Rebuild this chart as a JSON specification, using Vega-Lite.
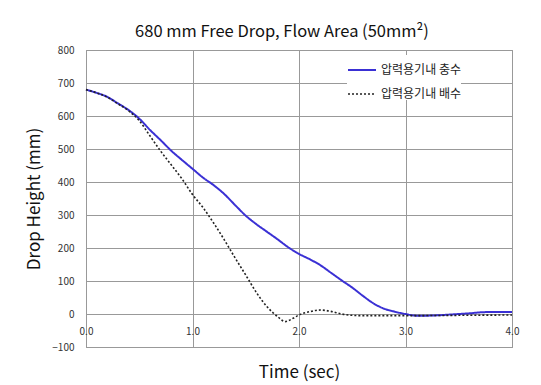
{
  "$schema": "https://vega.github.io/schema/vega-lite/v6.json",
  "width": 426,
  "height": 297,
  "autosize": {"type": "none"},
  "padding": {"left": 86, "top": 50, "right": 29, "bottom": 38},
  "background": "white",
  "title": {
    "text": "680 mm Free Drop, Flow Area (50mm²)",
    "font": "Noto Sans CJK KR",
    "fontSize": 16.5,
    "fontWeight": "normal",
    "color": "#111111",
    "anchor": "middle",
    "dx": -17,
    "offset": 5
  },
  "data": {
    "values": [
      {"t": 0.0, "v": 680, "s": "압력용기내 충수"},
      {"t": 0.1, "v": 670, "s": "압력용기내 충수"},
      {"t": 0.2, "v": 658, "s": "압력용기내 충수"},
      {"t": 0.3, "v": 638, "s": "압력용기내 충수"},
      {"t": 0.4, "v": 618, "s": "압력용기내 충수"},
      {"t": 0.5, "v": 592, "s": "압력용기내 충수"},
      {"t": 0.6, "v": 558, "s": "압력용기내 충수"},
      {"t": 0.7, "v": 527, "s": "압력용기내 충수"},
      {"t": 0.8, "v": 495, "s": "압력용기내 충수"},
      {"t": 0.9, "v": 467, "s": "압력용기내 충수"},
      {"t": 1.0, "v": 440, "s": "압력용기내 충수"},
      {"t": 1.1, "v": 413, "s": "압력용기내 충수"},
      {"t": 1.2, "v": 390, "s": "압력용기내 충수"},
      {"t": 1.3, "v": 363, "s": "압력용기내 충수"},
      {"t": 1.4, "v": 330, "s": "압력용기내 충수"},
      {"t": 1.5, "v": 298, "s": "압력용기내 충수"},
      {"t": 1.6, "v": 272, "s": "압력용기내 충수"},
      {"t": 1.7, "v": 249, "s": "압력용기내 충수"},
      {"t": 1.8, "v": 226, "s": "압력용기내 충수"},
      {"t": 1.9, "v": 202, "s": "압력용기내 충수"},
      {"t": 2.0, "v": 182, "s": "압력용기내 충수"},
      {"t": 2.1, "v": 166, "s": "압력용기내 충수"},
      {"t": 2.2, "v": 148, "s": "압력용기내 충수"},
      {"t": 2.3, "v": 125, "s": "압력용기내 충수"},
      {"t": 2.4, "v": 102, "s": "압력용기내 충수"},
      {"t": 2.5, "v": 80, "s": "압력용기내 충수"},
      {"t": 2.6, "v": 55, "s": "압력용기내 충수"},
      {"t": 2.7, "v": 32, "s": "압력용기내 충수"},
      {"t": 2.8, "v": 16, "s": "압력용기내 충수"},
      {"t": 2.9, "v": 7, "s": "압력용기내 충수"},
      {"t": 3.0, "v": 0, "s": "압력용기내 충수"},
      {"t": 3.1, "v": -5, "s": "압력용기내 충수"},
      {"t": 3.2, "v": -5, "s": "압력용기내 충수"},
      {"t": 3.3, "v": -4, "s": "압력용기내 충수"},
      {"t": 3.4, "v": -2, "s": "압력용기내 충수"},
      {"t": 3.5, "v": 0, "s": "압력용기내 충수"},
      {"t": 3.6, "v": 2, "s": "압력용기내 충수"},
      {"t": 3.7, "v": 5, "s": "압력용기내 충수"},
      {"t": 3.8, "v": 6, "s": "압력용기내 충수"},
      {"t": 3.9, "v": 6, "s": "압력용기내 충수"},
      {"t": 4.0, "v": 6, "s": "압력용기내 충수"},
      {"t": 0.0, "v": 680, "s": "압력용기내 배수"},
      {"t": 0.1, "v": 670, "s": "압력용기내 배수"},
      {"t": 0.2, "v": 657, "s": "압력용기내 배수"},
      {"t": 0.3, "v": 637, "s": "압력용기내 배수"},
      {"t": 0.4, "v": 616, "s": "압력용기내 배수"},
      {"t": 0.5, "v": 586, "s": "압력용기내 배수"},
      {"t": 0.6, "v": 540, "s": "압력용기내 배수"},
      {"t": 0.7, "v": 494, "s": "압력용기내 배수"},
      {"t": 0.8, "v": 452, "s": "압력용기내 배수"},
      {"t": 0.9, "v": 410, "s": "압력용기내 배수"},
      {"t": 1.0, "v": 362, "s": "압력용기내 배수"},
      {"t": 1.1, "v": 322, "s": "압력용기내 배수"},
      {"t": 1.2, "v": 275, "s": "압력용기내 배수"},
      {"t": 1.3, "v": 224, "s": "압력용기내 배수"},
      {"t": 1.4, "v": 170, "s": "압력용기내 배수"},
      {"t": 1.5, "v": 118, "s": "압력용기내 배수"},
      {"t": 1.6, "v": 65, "s": "압력용기내 배수"},
      {"t": 1.7, "v": 22, "s": "압력용기내 배수"},
      {"t": 1.8, "v": -8, "s": "압력용기내 배수"},
      {"t": 1.87, "v": -23, "s": "압력용기내 배수"},
      {"t": 1.95, "v": -12, "s": "압력용기내 배수"},
      {"t": 2.0, "v": -3, "s": "압력용기내 배수"},
      {"t": 2.1, "v": 7, "s": "압력용기내 배수"},
      {"t": 2.2, "v": 12, "s": "압력용기내 배수"},
      {"t": 2.3, "v": 8, "s": "압력용기내 배수"},
      {"t": 2.4, "v": 0, "s": "압력용기내 배수"},
      {"t": 2.5, "v": -4, "s": "압력용기내 배수"},
      {"t": 2.6, "v": -5, "s": "압력용기내 배수"},
      {"t": 2.8, "v": -5, "s": "압력용기내 배수"},
      {"t": 3.0, "v": -5, "s": "압력용기내 배수"},
      {"t": 3.5, "v": -4, "s": "압력용기내 배수"},
      {"t": 4.0, "v": -3, "s": "압력용기내 배수"}
    ]
  },
  "mark": {"type": "line", "interpolate": "monotone"},
  "encoding": {
    "x": {
      "field": "t",
      "type": "quantitative",
      "scale": {"domain": [0, 4], "nice": false},
      "axis": {
        "title": "Time (sec)",
        "values": [0, 1, 2, 3, 4],
        "format": ".1f",
        "offset": -33,
        "domain": false,
        "ticks": false,
        "labelFlush": false,
        "labelPadding": 12,
        "titlePadding": 28
      }
    },
    "y": {
      "field": "v",
      "type": "quantitative",
      "scale": {"domain": [-100, 800], "nice": false, "zero": false},
      "axis": {
        "title": "Drop Height (mm)",
        "values": [-100, 0, 100, 200, 300, 400, 500, 600, 700, 800],
        "domain": false,
        "ticks": false,
        "labelPadding": 12,
        "titlePadding": 8
      }
    },
    "color": {
      "field": "s",
      "type": "nominal",
      "sort": ["압력용기내 충수", "압력용기내 배수"],
      "scale": {"domain": ["압력용기내 충수", "압력용기내 배수"], "range": ["#3a30d4", "#222222"]},
      "legend": {"title": null}
    },
    "strokeDash": {
      "field": "s",
      "type": "nominal",
      "sort": ["압력용기내 충수", "압력용기내 배수"],
      "scale": {"domain": ["압력용기내 충수", "압력용기내 배수"], "range": [[1, 0], [2, 2]]},
      "legend": {"title": null}
    },
    "strokeWidth": {
      "field": "s",
      "type": "nominal",
      "sort": ["압력용기내 충수", "압력용기내 배수"],
      "scale": {"domain": ["압력용기내 충수", "압력용기내 배수"], "range": [2, 1.6]},
      "legend": null
    }
  },
  "config": {
    "font": "Noto Sans CJK KR",
    "view": {"stroke": "#888888", "strokeWidth": 1},
    "axis": {
      "grid": true,
      "gridColor": "#999999",
      "gridOpacity": 1,
      "gridWidth": 1,
      "labelFont": "Noto Sans CJK KR",
      "labelFontSize": 10,
      "labelColor": "#333333",
      "titleFont": "Noto Sans CJK KR",
      "titleFontSize": 17,
      "titleFontWeight": "normal",
      "titleColor": "#111111"
    },
    "legend": {
      "orient": "none",
      "legendX": 261,
      "legendY": 5,
      "symbolType": "stroke",
      "symbolSize": 784,
      "symbolStrokeWidth": 2,
      "labelFont": "Noto Sans CJK KR",
      "labelFontSize": 12,
      "labelColor": "#222222",
      "rowPadding": 3,
      "labelOffset": 4,
      "fillColor": "white"
    }
  }
}
